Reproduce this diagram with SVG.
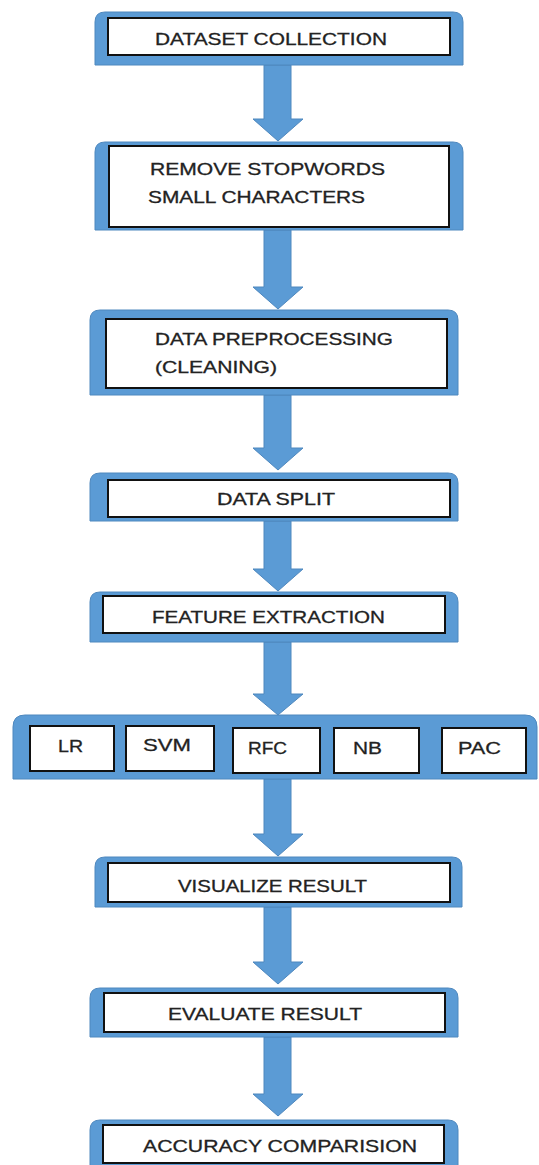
<svg xmlns="http://www.w3.org/2000/svg" width="539" height="1165" viewBox="0 0 539 1165">
<style>
.outer{fill:#5B9BD5;stroke:#4F88BE;stroke-width:1}
.inner{fill:#ffffff;stroke:#111111;stroke-width:2}
.arrow{fill:#5B9BD5;stroke:#4F88BE;stroke-width:1}
.t{font-family:"Liberation Sans",Arial,sans-serif;font-size:17px;fill:#222222;stroke:#222222;stroke-width:0.3}
</style>
<rect width="539" height="1165" fill="#ffffff"/>
<g id="connectors">
<path class="arrow" d="M264,65 V119 H253 L278,141 L303,119 H291 V65 Z"/>
<path class="arrow" d="M264,230 V287 H253 L278,309 L303,287 H291 V230 Z"/>
<path class="arrow" d="M264,395 V448 H253 L278,470 L303,448 H291 V395 Z"/>
<path class="arrow" d="M264,521 V569 H253 L278,591 L303,569 H291 V521 Z"/>
<path class="arrow" d="M264,642 V694 H253 L278,715 L303,694 H291 V642 Z"/>
<path class="arrow" d="M264,779 V834 H253 L278,856 L303,834 H291 V779 Z"/>
<path class="arrow" d="M264,907 V962 H253 L278,984 L303,962 H291 V907 Z"/>
<path class="arrow" d="M264,1037 V1094 H253 L278,1116 L303,1094 H291 V1037 Z"/>
</g>
<g id="dataset-collection">
<path class="outer" d="M95,65 V22 Q95,12 105,12 H453 Q463,12 463,22 V65 Z"/>
<rect class="inner" x="108" y="18" width="342" height="37"/>
<text class="t" x="155" y="45" textLength="232" lengthAdjust="spacingAndGlyphs">DATASET COLLECTION</text>
</g>
<g id="remove-stopwords">
<path class="outer" d="M95,230 V152 Q95,142 105,142 H453 Q463,142 463,152 V230 Z"/>
<rect class="inner" x="109" y="146" width="340" height="81"/>
<text class="t" x="150" y="175" textLength="235" lengthAdjust="spacingAndGlyphs">REMOVE STOPWORDS</text>
<text class="t" x="148" y="203" textLength="217" lengthAdjust="spacingAndGlyphs">SMALL CHARACTERS</text>
</g>
<g id="data-preprocessing">
<path class="outer" d="M90,395 V320 Q90,310 100,310 H448 Q458,310 458,320 V395 Z"/>
<rect class="inner" x="106" y="319" width="341" height="69"/>
<text class="t" x="155" y="345" textLength="238" lengthAdjust="spacingAndGlyphs">DATA PREPROCESSING</text>
<text class="t" x="155" y="373" textLength="122" lengthAdjust="spacingAndGlyphs">(CLEANING)</text>
</g>
<g id="data-split">
<path class="outer" d="M90,521 V483 Q90,473 100,473 H448 Q458,473 458,483 V521 Z"/>
<rect class="inner" x="108" y="480" width="342" height="37"/>
<text class="t" x="217" y="505" textLength="118" lengthAdjust="spacingAndGlyphs">DATA SPLIT</text>
</g>
<g id="feature-extraction">
<path class="outer" d="M90,642 V602 Q90,592 100,592 H448 Q458,592 458,602 V642 Z"/>
<rect class="inner" x="103" y="596" width="342" height="37"/>
<text class="t" x="152" y="623" textLength="233" lengthAdjust="spacingAndGlyphs">FEATURE EXTRACTION</text>
</g>
<g id="models">
<path class="outer" d="M13,779 V727 Q13,715 25,715 H525 Q537,715 537,727 V779 Z"/>
<g id="lr">
<rect class="inner" x="30" y="726" width="84" height="45"/>
<text class="t" x="58" y="752" textLength="25" lengthAdjust="spacingAndGlyphs">LR</text>
</g>
<g id="svm">
<rect class="inner" x="126" y="726" width="88" height="45"/>
<text class="t" x="143" y="751" textLength="48" lengthAdjust="spacingAndGlyphs">SVM</text>
</g>
<g id="rfc">
<rect class="inner" x="233" y="728" width="87" height="45"/>
<text class="t" x="248" y="754" textLength="39" lengthAdjust="spacingAndGlyphs">RFC</text>
</g>
<g id="nb">
<rect class="inner" x="334" y="728" width="85" height="45"/>
<text class="t" x="353" y="754" textLength="29" lengthAdjust="spacingAndGlyphs">NB</text>
</g>
<g id="pac">
<rect class="inner" x="442" y="728" width="84" height="45"/>
<text class="t" x="458" y="754" textLength="43" lengthAdjust="spacingAndGlyphs">PAC</text>
</g>
</g>
<g id="visualize-result">
<path class="outer" d="M95,907 V867 Q95,857 105,857 H452 Q462,857 462,867 V907 Z"/>
<rect class="inner" x="108" y="863" width="342" height="39"/>
<text class="t" x="178" y="892" textLength="189" lengthAdjust="spacingAndGlyphs">VISUALIZE RESULT</text>
</g>
<g id="evaluate-result">
<path class="outer" d="M90,1037 V998 Q90,988 100,988 H448 Q458,988 458,998 V1037 Z"/>
<rect class="inner" x="104" y="993" width="341" height="39"/>
<text class="t" x="168" y="1020" textLength="194" lengthAdjust="spacingAndGlyphs">EVALUATE RESULT</text>
</g>
<g id="accuracy-comparision">
<path class="outer" d="M90,1170 V1130 Q90,1120 100,1120 H448 Q458,1120 458,1130 V1170 Z"/>
<rect class="inner" x="103" y="1125" width="341" height="38"/>
<text class="t" x="143" y="1152" textLength="274" lengthAdjust="spacingAndGlyphs">ACCURACY COMPARISION</text>
</g>
</svg>
